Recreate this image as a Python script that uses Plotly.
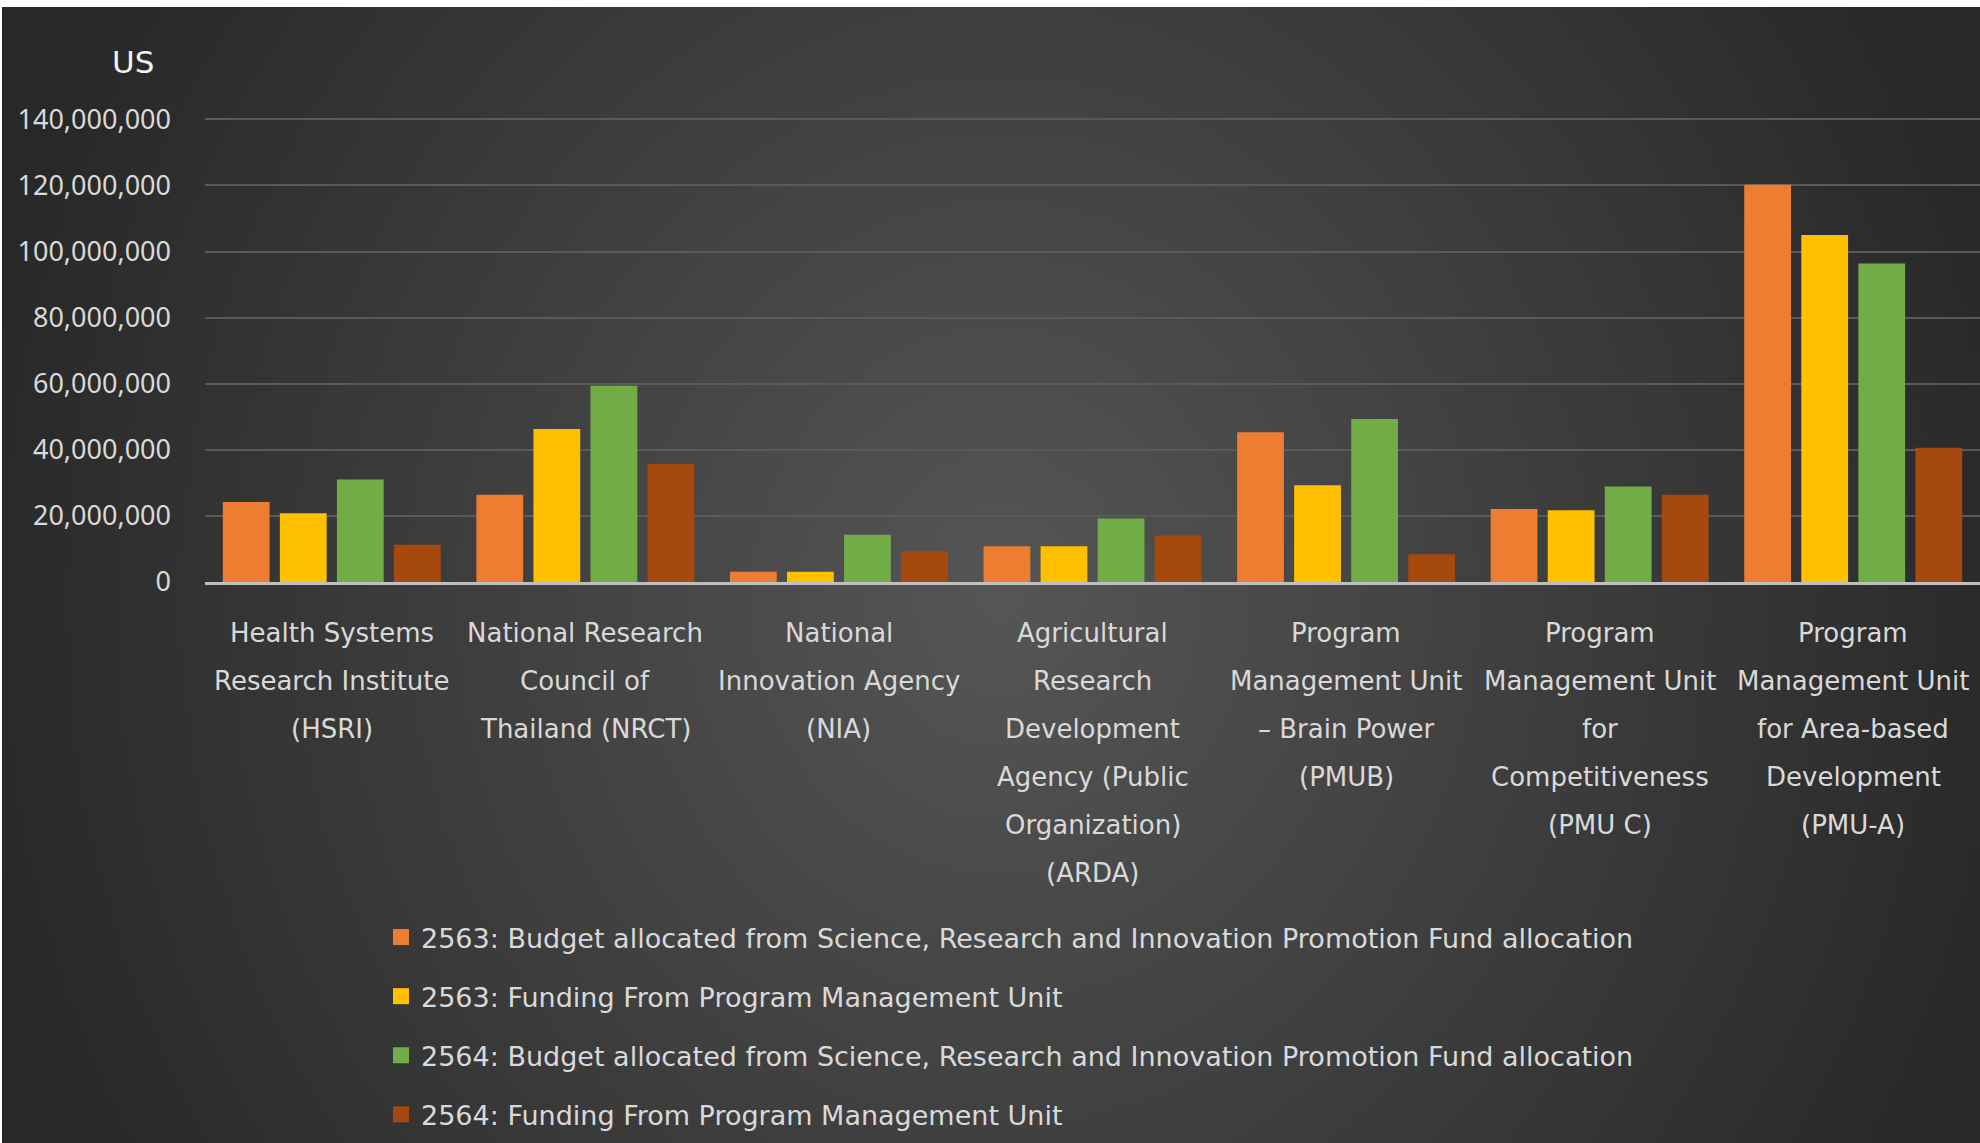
import base64, struct, zlib
import numpy as np
import plotly.graph_objects as go

# ---------------- data ----------------
categories = [
    "Health Systems<br>Research Institute<br>(HSRI)",
    "National Research<br>Council of<br>Thailand (NRCT)",
    "National<br>Innovation Agency<br>(NIA)",
    "Agricultural<br>Research<br>Development<br>Agency (Public<br>Organization)<br>(ARDA)",
    "Program<br>Management Unit<br>– Brain Power<br>(PMUB)",
    "Program<br>Management Unit<br>for<br>Competitiveness<br>(PMU C)",
    "Program<br>Management Unit<br>for Area-based<br>Development<br>(PMU-A)",
]
series_names = [
    "2563: Budget allocated from Science, Research and Innovation Promotion Fund allocation",
    "2563: Funding From Program Management Unit",
    "2564: Budget allocated from Science, Research and Innovation Promotion Fund allocation",
    "2564: Funding From Program Management Unit",
]
budget_2563 = [24_200_000, 26_400_000, 3_100_000, 10_800_000, 45_300_000, 22_100_000, 120_200_000]
pmu_2563 = [20_800_000, 46_300_000, 3_100_000, 10_800_000, 29_300_000, 21_700_000, 105_000_000]
budget_2564 = [31_000_000, 59_400_000, 14_300_000, 19_200_000, 49_300_000, 28_900_000, 96_400_000]
pmu_2564 = [11_300_000, 35_700_000, 9_300_000, 14_100_000, 8_400_000, 26_400_000, 40_600_000]
y_tick_values = [0, 20_000_000, 40_000_000, 60_000_000, 80_000_000, 100_000_000, 120_000_000, 140_000_000]
y_unit_label = "US"

series_values = [budget_2563, pmu_2563, budget_2564, pmu_2564]
colors = ["#ED7D31", "#FFC000", "#70AD47", "#A5490F"]

# ---------------- layout geometry ----------------
W, H = 1980, 1143
ML, MR, MT, MB = 205, 0, 118, 561
PW = W - ML - MR
PH = H - MT - MB
PLOT_BOTTOM = H - MB


def px_x(px):
    return (px - ML) / PW


def px_y(py):
    return (PLOT_BOTTOM - py) / PH


# ---------------- background gradient image ----------------
def make_bg():
    bx0, by0 = 2, 7
    bw, bh = W - bx0, H - by0
    s = 5
    w, h = bw // s, bh // s
    xs = bx0 + (np.arange(w) + 0.5) * bw / w
    ys = by0 + (np.arange(h) + 0.5) * bh / h
    X, Y = np.meshgrid(xs, ys)
    r = np.sqrt(((X - 1000) / 1050) ** 2 + ((Y - 600) / 1150) ** 2)
    f = np.clip(1 - r, 0, 1)
    v = (40 + 46 * f).astype(np.uint8)
    arr = np.stack([v, v, v], axis=-1)
    raw = b"".join(b"\x00" + arr[i].tobytes() for i in range(h))

    def chunk(tag, data):
        return (struct.pack(">I", len(data)) + tag + data
                + struct.pack(">I", zlib.crc32(tag + data) & 0xFFFFFFFF))

    png = (b"\x89PNG\r\n\x1a\n"
           + chunk(b"IHDR", struct.pack(">IIBBBBB", w, h, 8, 2, 0, 0, 0))
           + chunk(b"IDAT", zlib.compress(raw, 9))
           + chunk(b"IEND", b""))
    uri = "data:image/png;base64," + base64.b64encode(png).decode()
    return uri, bx0, by0, bw, bh


bg_uri, bx0, by0, bw, bh = make_bg()

# ---------------- figure ----------------
fig = go.Figure()
for i, (name, vals, col) in enumerate(zip(series_names, series_values, colors)):
    fig.add_trace(go.Bar(
        x=categories, y=vals, name=name,
        marker=dict(color=col, line=dict(width=0)),
        legendgroup=f"g{i}", showlegend=False,
    ))
    # legend entry with a larger square swatch
    fig.add_trace(go.Scatter(
        x=[None], y=[None], mode="markers", name=name,
        marker=dict(symbol="square", size=18, color=col),
        legendgroup=f"g{i}", showlegend=True, hoverinfo="skip",
    ))

label_font = dict(family="DejaVu Sans", size=26, color="#D9D9D9")
annotations = []
for cat in categories:
    for j, line in enumerate(cat.split("<br>")):
        annotations.append(dict(
            x=cat, xref="x", y=px_y(633 + 48 * j), yref="paper",
            text=line, showarrow=False, xanchor="center", yanchor="middle",
            font=label_font,
        ))
annotations.append(dict(
    x=px_x(133), xref="paper", y=px_y(62), yref="paper",
    text=y_unit_label, showarrow=False, xanchor="center", yanchor="middle",
    font=dict(family="DejaVu Sans", size=31, color="#F2F2F2"),
))

fig.update_layout(
    width=W, height=H,
    margin=dict(l=ML, r=MR, t=MT, b=MB, pad=0),
    paper_bgcolor="#FFFFFF",
    plot_bgcolor="rgba(0,0,0,0)",
    barmode="group", bargap=0.1, bargroupgap=0.18,
    showlegend=True,
    legend=dict(
        x=px_x(381), xanchor="left", y=px_y(913), yanchor="top",
        orientation="v", tracegroupgap=21, itemsizing="trace",
        font=dict(family="DejaVu Sans", size=27, color="#D9D9D9"),
        bgcolor="rgba(0,0,0,0)",
    ),
    images=[dict(
        source=bg_uri, xref="paper", yref="paper",
        x=px_x(bx0), y=px_y(by0), sizex=bw / PW, sizey=bh / PH,
        xanchor="left", yanchor="top", sizing="stretch", layer="below",
    )],
    annotations=annotations,
    xaxis=dict(
        showticklabels=False, showgrid=False, zeroline=False,
        showline=True, linecolor="#BFBFBF", linewidth=3, ticks="",
    ),
    yaxis=dict(
        range=[0, 140_400_000], tickvals=y_tick_values, tickformat=",",
        showgrid=True, gridcolor="#5A5A5A", gridwidth=1.5,
        zeroline=False, showline=False, ticks="",
        ticklabelstandoff=33,
        tickfont=dict(family="Noto Sans", size=27, color="#D9D9D9"),
    ),
)

fig.write_html(
    "out.html",
    config={"displayModeBar": False},
    post_script="document.body.style.margin='0';document.body.style.overflow='hidden';",
)
